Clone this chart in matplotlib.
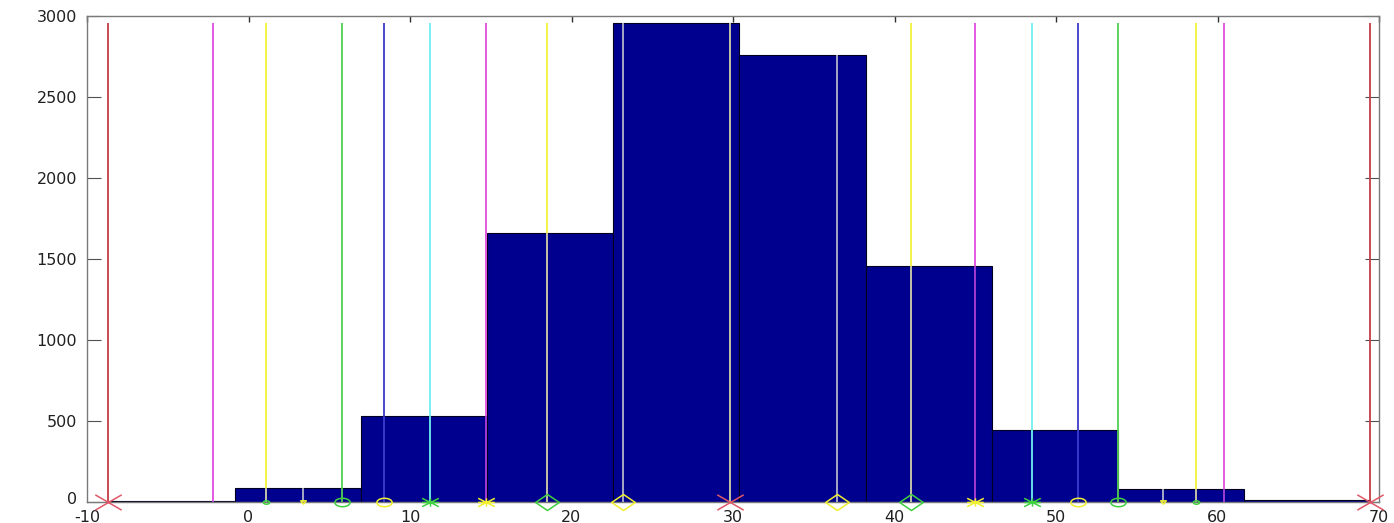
import numpy as np
import matplotlib
matplotlib.use("Agg")
import matplotlib.pyplot as plt
import matplotlib.transforms as mtransforms
from matplotlib.path import Path

plt.rcParams['axes.unicode_minus'] = False

# ---------------- data ----------------
bin_edges = [-8.68, -0.865, 6.95, 14.765, 22.58, 30.395, 38.21, 46.025, 53.84, 61.655, 69.47]
counts = [7, 88, 530, 1662, 2958, 2760, 1458, 445, 82, 10]

stem_x = [-8.68, -2.18, 1.09, 3.38, 5.79, 8.39, 11.23, 14.70, 18.47, 23.17, 29.79,
          36.41, 41.05, 45.00, 48.53, 51.37, 53.86, 56.64, 58.67, 60.40, 69.47]
stem_height = 2958

x_ticks = [-10, 0, 10, 20, 30, 40, 50, 60, 70]
y_ticks = [0, 500, 1000, 1500, 2000, 2500, 3000]

# ---------------- styles ----------------
stem_colors = ['red', 'magenta', 'yellow', 'white', 'green', 'blue', 'cyan', 'magenta',
               'yellow', 'white', 'yellow', 'white', 'yellow', 'magenta', 'cyan', 'blue',
               'green', 'white', 'yellow', 'magenta', 'red']
stem_markers = ['x', None, 'dot', 'v', 'o', 'o', '*', '*', 'd', 'd', 'x', 'd', 'd', '*', '*',
                'o', 'o', 'v', 'dot', None, 'x']
marker_colors = ['red', None, 'green', 'yellow', 'green', 'yellow', 'green', 'yellow', 'green',
                 'yellow', 'red', 'yellow', 'green', 'yellow', 'green', 'yellow', 'green',
                 'yellow', 'green', None, 'red']

color_map = {
    'red': '#C43C46', 'magenta': '#E04CE0', 'yellow': '#F2F23C', 'white': '#FFFFFF',
    'green': '#50D050', 'blue': '#3C3CC8', 'cyan': '#70F0F0',
}
inside_map = {
    'red': '#C43C46', 'magenta': '#B040D8', 'yellow': '#D2D2A8', 'white': '#B4B4C8',
    'green': '#50D050', 'blue': '#3C3CD0', 'cyan': '#70F0F0',
}
mcolor_map = {'red': '#E05868', 'green': '#40D040', 'yellow': '#F0F030'}

# custom (horizontally stretched) markers
t = np.linspace(0, 2 * np.pi, 41)
ellipse = Path(np.column_stack([np.cos(t), 0.55 * np.sin(t)]), closed=True)
diamond = Path([(-1, 0), (0, 0.68), (1, 0), (0, -0.68), (-1, 0)], closed=True)
xmark = Path([(-1, -0.58), (1, 0.58), (-1, 0.58), (1, -0.58)],
             [Path.MOVETO, Path.LINETO, Path.MOVETO, Path.LINETO])
star = Path([(-1, -0.5), (1, 0.5), (-1, 0.5), (1, -0.5), (-1, 0), (1, 0), (0, -0.5), (0, 0.5)],
            [Path.MOVETO, Path.LINETO, Path.MOVETO, Path.LINETO,
             Path.MOVETO, Path.LINETO, Path.MOVETO, Path.LINETO])
tri = Path([(-1, 0.6), (1, 0.6), (0, -0.6), (-1, 0.6)], closed=True)

marker_spec = {
    'x': (xmark, 19), 'o': (ellipse, 11), 'd': (diamond, 17), '*': (star, 12),
    'dot': (ellipse, 4.5), 'v': (tri, 4),
}

# ---------------- figure ----------------
W, H = 1394, 523
fig = plt.figure(figsize=(W / 100, H / 100), dpi=100)
ax = fig.add_axes([87 / W, 21 / H, 1292 / W, 486 / H])

edges = np.array(bin_edges)
ax.bar(edges[:-1], counts, width=np.diff(edges), align='edge',
       color='#00008F', edgecolor='#000020', linewidth=0.8, zorder=2)

for x, c in zip(stem_x, stem_colors):
    idx = int(np.clip(np.searchsorted(edges, x, side='right') - 1, 0, len(counts) - 1))
    h = counts[idx]
    ax.vlines(x, 0, h, colors=inside_map[c], lw=1.3, zorder=3)
    ax.vlines(x, h, stem_height, colors=color_map[c], lw=1.3, zorder=3)

for x, m, mc in zip(stem_x, stem_markers, marker_colors):
    if m is None:
        continue
    path, size = marker_spec[m]
    ax.plot([x], [0], linestyle='none', marker=path, markersize=size,
            markerfacecolor='none', markeredgecolor=mcolor_map[mc],
            markeredgewidth=1.1, clip_on=False, zorder=5)

ax.set_xlim(-10, 70)
ax.set_ylim(0, 3000)
ax.set_xticks(x_ticks)
ax.set_yticks(y_ticks)

for s in ax.spines.values():
    s.set_color('#7A7A7A')
    s.set_linewidth(1.0)

ax.tick_params(axis='y', which='both', direction='in', length=10, width=0.8,
               color='#505050', left=True, right=True, labelsize=11.5,
               labelcolor='#202020', pad=7)
ax.tick_params(axis='x', which='both', direction='in', length=4, width=1.0,
               color='#303030', top=True, bottom=False, labelsize=11.5,
               labelcolor='#202020', pad=5.5)

# nudge the "0" y label up slightly so it sits above the "-10" x label
zero_lbl = ax.yaxis.get_major_ticks()[0].label1
zero_lbl.set_transform(zero_lbl.get_transform() +
                       mtransforms.ScaledTranslation(0, 3 / 72, fig.dpi_scale_trans))

fig.savefig('out.png', dpi=100)
